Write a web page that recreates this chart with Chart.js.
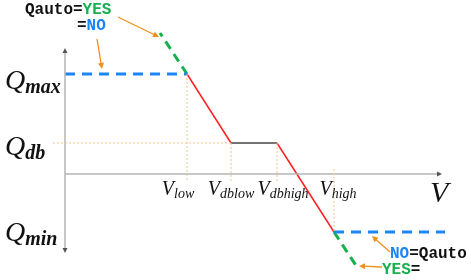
<!DOCTYPE html>
<html>
<head>
<meta charset="utf-8">
<script src="https://cdn.jsdelivr.net/npm/chart.js@4.4.1/dist/chart.umd.min.js"></script>
<style>
  html, body { margin: 0; padding: 0; background: #fff; }
  #wrap { width: 471px; height: 280px; }
</style>
</head>
<body>
<div id="wrap"><canvas id="chart"></canvas></div>
<script>
/* ── DATA (chart units, axis origin = 0,0) ─────────────────────────── */
const vNames = ["low", "dblow", "dbhigh", "high"];
const vValues = [12.2, 16.6, 21.2, 26.9];
const qNames = ["max", "db", "min"];
const qValues = [10.0, 3.1, -5.8];
const yesTopEnd = [9.5, 14.1];      // Qauto=YES extension above Qmax
const yesBottomEnd = [29.2, -9.3];  // Qauto=YES extension below Qmin
const noRightEnd = 38.0;            // end of Qmin (Qauto=NO) line
const xAxisEnd = 37.4;
const yAxisRange = [-7.6, 12.3];
const guideFloor = -0.8;            // dotted guides drop below V axis

const [vLow, vDbLow, vDbHigh, vHigh] = vValues;
const [qMax, qDb, qMin] = qValues;

const RED = "#ff1f1f";
const BLUE = "#1a86f5";
const GREEN = "#17b04e";
const ORANGE = "#f0901c";
const GUIDE = "#f6c48e";
const AXIS = "#b4b4b4";

function line(points, color, width, dash) {
  return {
    data: points.map(([x, y]) => ({ x, y })),
    borderColor: color,
    borderWidth: width,
    borderDash: dash || [],
    pointRadius: 0,
    showLine: true,
    fill: false,
  };
}

const datasets = [
  // dotted guides
  line([[vLow, qMax], [vLow, guideFloor]], GUIDE, 1, [2, 2]),
  line([[vDbLow, qDb], [vDbLow, guideFloor]], GUIDE, 1, [2, 2]),
  line([[vDbHigh, qDb], [vDbHigh, guideFloor]], GUIDE, 1, [2, 2]),
  line([[vHigh, 0.5], [vHigh, qMin]], GUIDE, 1, [2, 2]),
  line([[-1.2, qDb], [vDbLow, qDb]], GUIDE, 1, [2, 2]),
  // axes
  line([[0, 0], [xAxisEnd, 0]], AXIS, 1.5),
  line([[0, yAxisRange[0]], [0, yAxisRange[1]]], AXIS, 1.5),
  // Qauto = NO
  line([[0, qMax], [vLow, qMax]], BLUE, 3, [10, 7]),
  line([[vHigh, qMin], [noRightEnd, qMin]], BLUE, 3, [10, 7]),
  // Qauto = YES
  line([[vLow, qMax], yesTopEnd], GREEN, 3, [9, 6]),
  line([[vHigh, qMin], yesBottomEnd], GREEN, 3, [9, 6]),
  // droop curve
  {
    ...line([[vLow, qMax], [vDbLow, qDb], [vDbHigh, qDb], [vHigh, qMin]], RED, 1.5),
    segment: {
      borderColor: (c) => (c.p0.parsed.y === c.p1.parsed.y ? "#444" : RED),
    },
  },
];

/* ── annotations ───────────────────────────────────────────────────── */
const arrows = [
  [[5.3, 15.7], [9.4, 13.7]],
  [[3.2, 13.5], [3.7, 10.5]],
  [[32.5, -7.8], [30.7, -6.2]],
  [[31.7, -9.3], [29.4, -9.2]],
];

const MONO = "bold 16px 'Liberation Mono', 'DejaVu Sans Mono', monospace";
const notes = [
  { at: [-4.0, 16.4], runs: [["Qauto=", "#111"], ["YES", GREEN]] },
  { at: [1.2, 14.8], runs: [["=", "#111"], ["NO", BLUE]] },
  { at: [32.5, -8.0], runs: [["NO", BLUE], ["=Qauto", "#111"]] },
  { at: [31.7, -9.6], runs: [["YES", GREEN], ["=", "#111"]] },
];

function drawRuns(ctx, x, y, runs) {
  let cx = x;
  runs.forEach(([text, font, color, dy]) => {
    ctx.font = font;
    ctx.fillStyle = color;
    ctx.fillText(text, cx, y + (dy || 0));
    cx += ctx.measureText(text).width;
  });
  return cx - x;
}

const overlay = {
  id: "overlay",
  afterDatasetsDraw(chart) {
    const { ctx, scales } = chart;
    const px = (v) => scales.x.getPixelForValue(v);
    const py = (v) => scales.y.getPixelForValue(v);
    ctx.save();

    // axis arrowheads
    ctx.fillStyle = "#555";
    const ax = px(xAxisEnd), ay = py(0);
    ctx.beginPath();
    ctx.moveTo(ax + 3, ay); ctx.lineTo(ax - 2, ay - 2.5); ctx.lineTo(ax - 2, ay + 2.5);
    ctx.fill();
    const tx = px(0), ty = py(yAxisRange[1]), by = py(yAxisRange[0]);
    ctx.beginPath();
    ctx.moveTo(tx, ty - 3); ctx.lineTo(tx - 2.5, ty + 2); ctx.lineTo(tx + 2.5, ty + 2);
    ctx.fill();
    ctx.beginPath();
    ctx.moveTo(tx, by + 3); ctx.lineTo(tx - 2.5, by - 2); ctx.lineTo(tx + 2.5, by - 2);
    ctx.fill();

    // orange arrows
    ctx.strokeStyle = ORANGE;
    ctx.fillStyle = ORANGE;
    ctx.lineWidth = 1.3;
    arrows.forEach(([a, b]) => {
      const x0 = px(a[0]), y0 = py(a[1]), x1 = px(b[0]), y1 = py(b[1]);
      const ang = Math.atan2(y1 - y0, x1 - x0);
      ctx.beginPath();
      ctx.moveTo(x0, y0);
      ctx.lineTo(x1 - 4 * Math.cos(ang), y1 - 4 * Math.sin(ang));
      ctx.stroke();
      ctx.beginPath();
      ctx.moveTo(x1, y1);
      ctx.lineTo(x1 - 6 * Math.cos(ang) + 3 * Math.sin(ang), y1 - 6 * Math.sin(ang) - 3 * Math.cos(ang));
      ctx.lineTo(x1 - 6 * Math.cos(ang) - 3 * Math.sin(ang), y1 - 6 * Math.sin(ang) + 3 * Math.cos(ang));
      ctx.fill();
    });

    // Qauto notes
    ctx.textBaseline = "middle";
    notes.forEach((n) => {
      drawRuns(ctx, px(n.at[0]), py(n.at[1]), n.runs.map(([t, c]) => [t, MONO, c]));
    });

    // Q labels
    ctx.textBaseline = "alphabetic";
    const qBase = [15, 12, 9];
    const Q_BIG = "italic 28px 'Liberation Serif', serif";
    const Q_SUB = "bold italic 20px 'Liberation Serif', serif";
    qNames.forEach((name, i) => {
      drawRuns(ctx, px(0) - 60, py(qValues[i]) + qBase[i], [
        ["Q", Q_BIG, "#111"],
        [name, Q_SUB, "#111", 4],
      ]);
    });

    // V labels
    const V_BIG = "italic 20px 'Liberation Serif', serif";
    const V_SUB = "italic 14px 'Liberation Serif', serif";
    const vShift = [-9, 0, 6, 4];
    vNames.forEach((name, i) => {
      ctx.font = V_BIG;
      let w = ctx.measureText("V").width;
      ctx.font = V_SUB;
      w += ctx.measureText(name).width;
      drawRuns(ctx, px(vValues[i]) - w / 2 + vShift[i], py(0) + 21, [
        ["V", V_BIG, "#111"],
        [name, V_SUB, "#111", 3],
      ]);
    });
    drawRuns(ctx, px(xAxisEnd) - 9, py(0) + 28, [["V", "italic 30px 'Liberation Serif', serif", "#111"]]);

    ctx.restore();
  },
};

new Chart(document.getElementById("chart"), {
  type: "scatter",
  data: { datasets },
  plugins: [overlay],
  options: {
    responsive: true,
    maintainAspectRatio: false,
    animation: false,
    layout: { padding: 0 },
    plugins: { legend: { display: false }, tooltip: { enabled: false } },
    scales: {
      x: { type: "linear", display: false, min: -6.5, max: 40.6 },
      y: { type: "linear", display: false, min: -10.6, max: 17.4 },
    },
  },
});
</script>
</body>
</html>
